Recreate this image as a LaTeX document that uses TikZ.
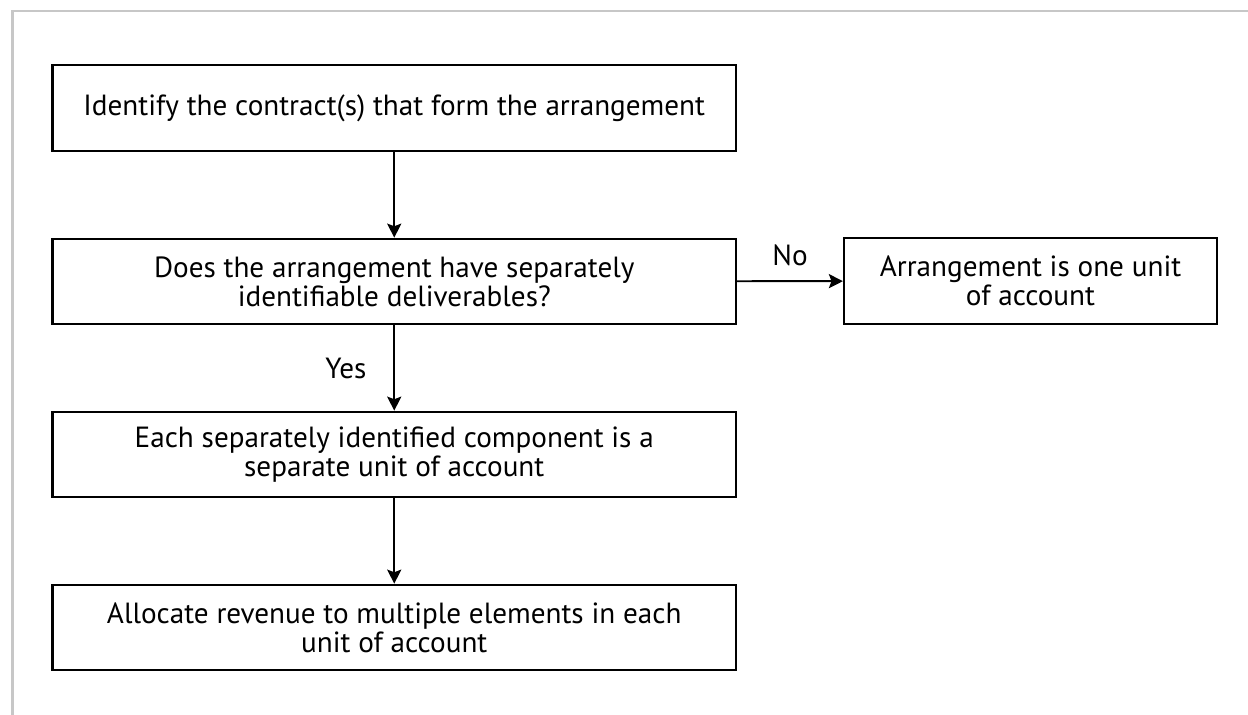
\documentclass[tikz,border=0pt]{standalone}
\usepackage{fontspec}
\setmainfont{PT Sans}
\usepackage{tikz}
\usetikzlibrary{positioning,arrows.meta}

\begin{document}
\begin{tikzpicture}[
    stepbox/.style={draw, line width=1.2pt, minimum width=13.67cm, minimum height=1.71cm, align=center, inner sep=0pt},
    sidebox/.style={draw, line width=1.2pt, minimum width=7.46cm, minimum height=1.71cm, align=center, inner sep=0pt},
    flow/.style={-{Stealth[length=8pt,width=8pt,inset=1.5pt]}, line width=1.1pt},
    every node/.style={font=\fontsize{16.6}{16.6}\selectfont}
  ]
  \useasboundingbox (0,0) rectangle (24.96,-14.3);
  \draw [line width=1.2pt, black!22](0.25,-14.3) -- (0.25,-0.22) -- (24.96,-0.22);
  \node[stepbox] at(7.885,-2.16)(contract){Identify the contract(s) that form the arrangement};
  \node[stepbox] at(7.885,-5.63)(deliver){Does the arrangement have separately\\identifiable deliverables?};
  \node[sidebox] at(20.61,-5.62)(oneunit){Arrangement is one unit\\of account};
  \node[stepbox] at(7.885,-9.09)(component){Each separately identified component is a\\separate unit of account};
  \node[stepbox] at(7.885,-12.55)(allocate){Allocate revenue to multiple elements in each\\unit of account};
  \draw [flow](contract) -- (deliver);
  \draw [flow](deliver) -- node[above=5pt]{No} (oneunit);
  \draw [flow](deliver) -- node[left=12pt]{Yes} (component);
  \draw [flow](component) -- (allocate);
\end{tikzpicture}
\end{document}
